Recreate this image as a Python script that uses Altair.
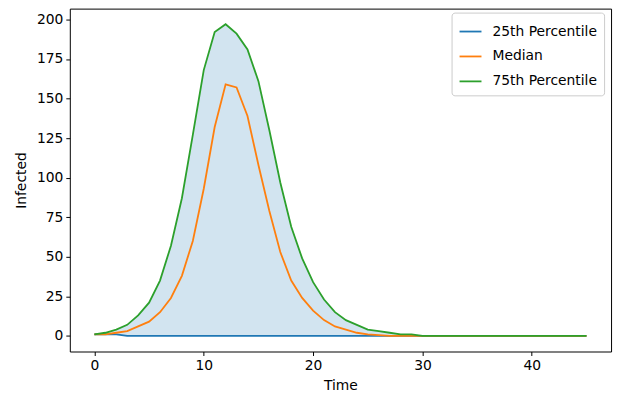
import altair as alt
import pandas as pd

time = list(range(46))
p25 = [1, 1, 1] + [0] * 43
median = [1, 1, 2, 3, 6, 9, 15, 24, 38, 60, 93, 132, 159, 157, 139, 108, 79, 53, 35, 24,
          16, 10, 6, 4, 2, 1, 0.5, 0] + [0] * 18
p75 = [1, 2, 4, 7, 13, 21, 35, 57, 87, 127, 168, 192, 197, 191, 181, 161, 130, 97, 69, 49,
       34, 23, 15, 10, 7, 4, 3, 2, 1, 1] + [0] * 16

series_names = ["25th Percentile", "Median", "75th Percentile"]
series_colors = ["#1f77b4", "#ff7f0e", "#2ca02c"]

wide = pd.DataFrame({"Time": time, "p25": p25, "p75": p75})
long = pd.concat([
    pd.DataFrame({"Time": time, "Infected": vals, "series": name})
    for name, vals in zip(series_names, [p25, median, p75])
])

FONT = "DejaVu Sans"
FS = 13.9

xscale = alt.Scale(domain=[-2.25, 47.25], nice=False, zero=False)
yscale = alt.Scale(domain=[-9.85, 206.85], nice=False, zero=False)
xaxis = alt.Axis(values=[0, 10, 20, 30, 40], title="Time", grid=False)
yaxis = alt.Axis(values=list(range(0, 201, 25)), title="Infected", grid=False)

area = alt.Chart(wide).mark_area(color="#1f77b4", opacity=0.2).encode(
    x=alt.X("Time:Q", scale=xscale, axis=xaxis),
    y=alt.Y("p25:Q", scale=yscale, axis=yaxis),
    y2="p75:Q",
)

color = alt.Color(
    "series:N",
    scale=alt.Scale(domain=series_names, range=series_colors),
    legend=alt.Legend(
        title=None, orient="none", legendX=383, legendY=4,
        symbolType="stroke", symbolSize=484, symbolStrokeWidth=1.8,
        labelFontSize=FS, labelFont=FONT, labelColor="black",
        rowPadding=6, padding=7, strokeColor="#cccccc", fillColor="white",
        cornerRadius=3, labelOffset=10,
    ),
)

layers = [area]
for name in series_names:
    layers.append(
        alt.Chart(long[long["series"] == name]).mark_line(strokeWidth=1.8).encode(
            x=alt.X("Time:Q", scale=xscale, axis=xaxis),
            y=alt.Y("Infected:Q", scale=yscale, axis=yaxis),
            color=color,
        )
    )

chart = alt.layer(*layers).properties(
    width=543, height=344,
    padding={"left": 62, "top": 0, "right": 20, "bottom": 40},
    autosize=alt.AutoSizeParams(type="none"),
).configure_view(
    stroke="black", strokeWidth=1
).configure_axis(
    domain=False, tickColor="black", tickSize=4, tickWidth=1,
    labelFont=FONT, labelFontSize=FS, labelColor="black", labelPadding=3,
    titleFont=FONT, titleFontSize=FS, titleFontWeight="normal", titleColor="black",
).configure_axisX(titlePadding=6).configure_axisY(titlePadding=8)

chart.save("out.html", embed_options={"renderer": "svg", "actions": False})
